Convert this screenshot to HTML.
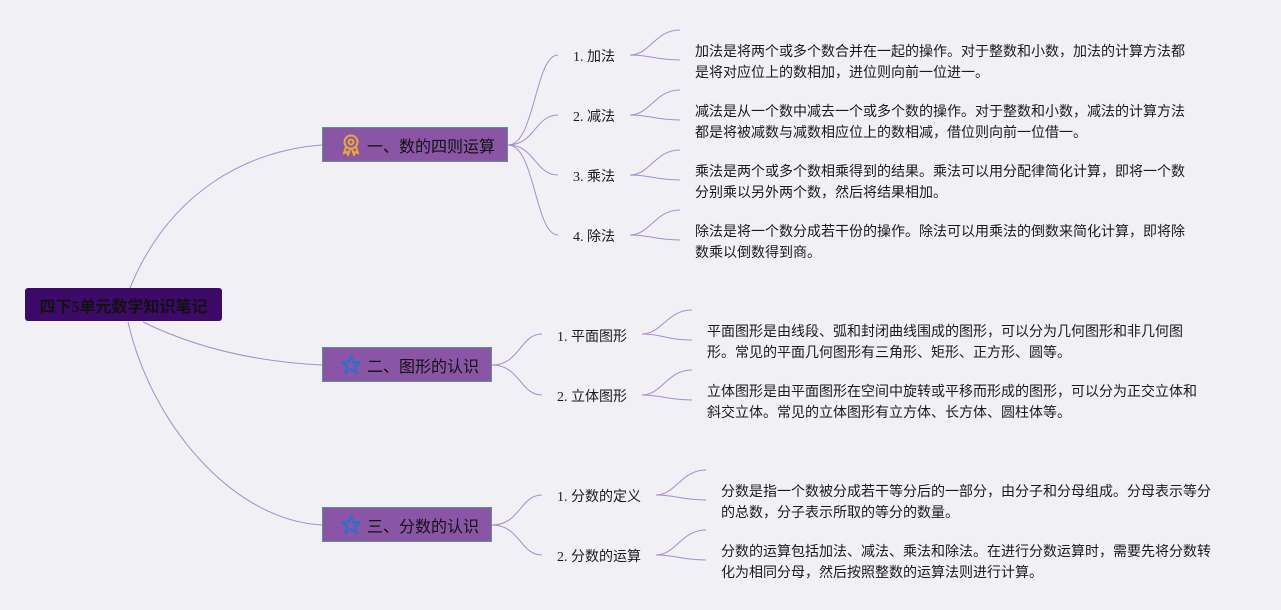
<!DOCTYPE html>
<html><head><meta charset="utf-8"><style>
body{margin:0;width:1281px;height:610px;background:#f1f0f4;position:relative;overflow:hidden;font-family:"Liberation Serif","Noto Sans CJK SC",sans-serif;}
.t{position:absolute;font-size:14px;color:#1a1a1a;line-height:21px;white-space:nowrap}
.lb{position:absolute;font-size:14px;color:#1a1a1a;line-height:16px;white-space:nowrap}
.box{position:absolute;background:#8a55a4;border:1px solid #5a9090;box-sizing:border-box;font-size:16px;color:#111;display:flex;align-items:center;}
.box svg{margin-right:6px}
</style></head><body>
<svg width="1281" height="610" style="position:absolute;left:0;top:0" fill="none" stroke="#a88ccc" stroke-width="1">
<path d="M130 288 C170 190 250 150 322 145"/>
<path d="M143 322 C200 350 260 362 322 365"/>
<path d="M128 322 C150 420 230 520 322 525"/>
<path d="M508 145 C535 145 535 55 558 55"/>
<path d="M508 145 C535 145 535 115 558 115"/>
<path d="M508 145 C535 145 535 175 558 175"/>
<path d="M508 145 C535 145 535 235 558 235"/>
<path d="M492 365 C520 365 520 334 542 334"/>
<path d="M492 365 C520 365 520 395 542 395"/>
<path d="M492 525 C520 525 520 495 542 495"/>
<path d="M492 525 C520 525 520 555 542 555"/>
<g>
<path d="M630 55 C650 55 655 30 680 30"/><path d="M630 55 C650 55 655 60 680 60"/>
<path d="M630 115 C650 115 655 90 680 90"/><path d="M630 115 C650 115 655 120 680 120"/>
<path d="M630 175 C650 175 655 150 680 150"/><path d="M630 175 C650 175 655 180 680 180"/>
<path d="M630 235 C650 235 655 210 680 210"/><path d="M630 235 C650 235 655 240 680 240"/>
<path d="M642 334 C662 334 667 310 692 310"/><path d="M642 334 C662 334 667 340 692 340"/>
<path d="M642 395 C662 395 667 370 692 370"/><path d="M642 395 C662 395 667 400 692 400"/>
<path d="M656 495 C676 495 681 470 706 470"/><path d="M656 495 C676 495 681 500 706 500"/>
<path d="M656 555 C676 555 681 530 706 530"/><path d="M656 555 C676 555 681 560 706 560"/>
</g>
</svg>
<div style="position:absolute;left:25px;top:288px;width:197px;height:33px;background:#3e0a6a;border-radius:3px;display:flex;align-items:center;justify-content:center;font-size:16px;font-weight:bold;color:#111">四下5单元数学知识笔记</div>
<div class="box" style="left:322px;top:127px;width:186px;height:35px;padding-left:18px"><svg width="20" height="22" viewBox="0 0 20 22" fill="none" stroke="#e8a838" stroke-width="2"><circle cx="10" cy="8" r="6.5"/><circle cx="10" cy="8" r="2.5"/><path d="M5 13 L3 19 L6 18 L7 21 L9 15 M15 13 L17 19 L14 18 L13 21 L11 15"/></svg>一、数的四则运算</div>
<div class="box" style="left:322px;top:347px;width:170px;height:35px;padding-left:18px"><svg width="20" height="20" viewBox="0 0 20 20" fill="none" stroke="#2a6fd0" stroke-width="2.2"><path d="M10 1.5 L12.5 7.3 L18.5 7.6 L13.8 11.5 L15.4 17.6 L10 14.2 L4.6 17.6 L6.2 11.5 L1.5 7.6 L7.5 7.3 Z"/></svg>二、图形的认识</div>
<div class="box" style="left:322px;top:507px;width:170px;height:35px;padding-left:18px"><svg width="20" height="20" viewBox="0 0 20 20" fill="none" stroke="#2a6fd0" stroke-width="2.2"><path d="M10 1.5 L12.5 7.3 L18.5 7.6 L13.8 11.5 L15.4 17.6 L10 14.2 L4.6 17.6 L6.2 11.5 L1.5 7.6 L7.5 7.3 Z"/></svg>三、分数的认识</div>
<div class="lb" style="left:573px;top:50px">1. 加法</div>
<div class="lb" style="left:573px;top:110px">2. 减法</div>
<div class="lb" style="left:573px;top:170px">3. 乘法</div>
<div class="lb" style="left:573px;top:230px">4. 除法</div>
<div class="lb" style="left:557px;top:330px">1. 平面图形</div>
<div class="lb" style="left:557px;top:390px">2. 立体图形</div>
<div class="lb" style="left:557px;top:490px">1. 分数的定义</div>
<div class="lb" style="left:557px;top:550px">2. 分数的运算</div>
<div class="t" style="left:695px;top:42px">加法是将两个或多个数合并在一起的操作。对于整数和小数，加法的计算方法都<br>是将对应位上的数相加，进位则向前一位进一。</div>
<div class="t" style="left:695px;top:102px">减法是从一个数中减去一个或多个数的操作。对于整数和小数，减法的计算方法<br>都是将被减数与减数相应位上的数相减，借位则向前一位借一。</div>
<div class="t" style="left:695px;top:162px">乘法是两个或多个数相乘得到的结果。乘法可以用分配律简化计算，即将一个数<br>分别乘以另外两个数，然后将结果相加。</div>
<div class="t" style="left:695px;top:222px">除法是将一个数分成若干份的操作。除法可以用乘法的倒数来简化计算，即将除<br>数乘以倒数得到商。</div>
<div class="t" style="left:707px;top:322px">平面图形是由线段、弧和封闭曲线围成的图形，可以分为几何图形和非几何图<br>形。常见的平面几何图形有三角形、矩形、正方形、圆等。</div>
<div class="t" style="left:707px;top:382px">立体图形是由平面图形在空间中旋转或平移而形成的图形，可以分为正交立体和<br>斜交立体。常见的立体图形有立方体、长方体、圆柱体等。</div>
<div class="t" style="left:721px;top:482px">分数是指一个数被分成若干等分后的一部分，由分子和分母组成。分母表示等分<br>的总数，分子表示所取的等分的数量。</div>
<div class="t" style="left:721px;top:542px">分数的运算包括加法、减法、乘法和除法。在进行分数运算时，需要先将分数转<br>化为相同分母，然后按照整数的运算法则进行计算。</div>
</body></html>
